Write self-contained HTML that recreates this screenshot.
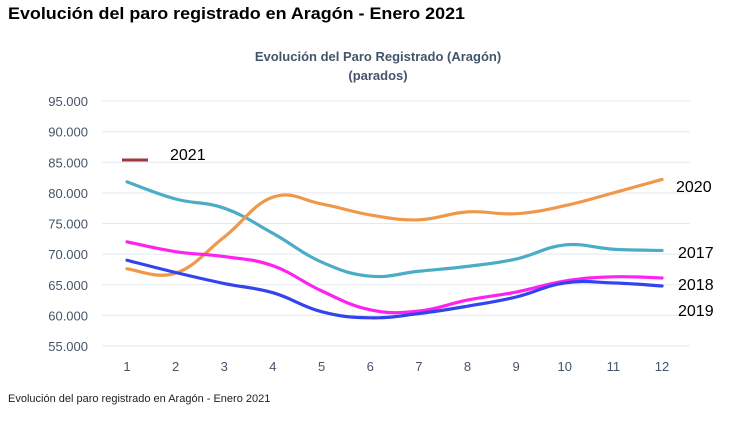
<!DOCTYPE html>
<html><head><meta charset="utf-8"><style>
body{margin:0;background:#fff;width:748px;height:417px;overflow:hidden;font-family:"Liberation Sans",sans-serif}
</style></head><body>
<svg id="s" width="748" height="417" xmlns="http://www.w3.org/2000/svg" font-family="Liberation Sans, sans-serif">
<text x="8" y="19" font-size="17" font-weight="bold" fill="#000" textLength="457" lengthAdjust="spacingAndGlyphs">Evolución del paro registrado en Aragón - Enero 2021</text>
<text x="378" y="61" font-size="13" font-weight="bold" fill="#44546A" text-anchor="middle">Evolución del Paro Registrado (Aragón)</text>
<text x="378" y="80" font-size="13" font-weight="bold" fill="#44546A" text-anchor="middle">(parados)</text>
<g id="grid"></g>
<line x1="122" y1="160" x2="148" y2="160" stroke="#9B3B3B" stroke-width="3"/>
<text x="170" y="160" font-size="16" fill="#000">2021</text>
<g id="lines"></g>
<text x="676" y="192" font-size="16" fill="#000">2020</text>
<text x="678" y="258" font-size="16" fill="#000">2017</text>
<text x="678" y="290" font-size="16" fill="#000">2018</text>
<text x="678" y="316" font-size="16" fill="#000">2019</text>
<text x="8" y="402" font-size="11" fill="#222">Evolución del paro registrado en Aragón - Enero 2021</text>
</svg>
<script>
function Y(v){return 101+(95-v)*6.125}
function X(i){return 127+i*48.64}
var g=document.getElementById('grid'),h='';
for(var v=95;v>=55;v-=5){var y=Y(v);h+='<line x1="102" x2="690" y1="'+y+'" y2="'+y+'" stroke="#E4EAF1" stroke-width="1"/>';
h+='<text x="88" y="'+(y+5)+'" font-size="13" fill="#44546A" text-anchor="end">'+v+'.000</text>';}
for(var i=0;i<12;i++)h+='<text x="'+X(i)+'" y="371" font-size="13" fill="#44546A" text-anchor="middle">'+(i+1)+'</text>';
g.innerHTML=h;
var data=[
["#4BACC6",[81.8,79,77.5,73.4,68.7,66.4,67.2,68,69.2,71.5,70.8,70.6]],
["#F0984A",[67.6,66.9,72.8,79.3,78.2,76.4,75.6,76.9,76.6,77.9,80.0,82.2]],
["#FF22EE",[72,70.4,69.6,68.1,64,60.9,60.7,62.5,63.8,65.6,66.3,66.1]],
["#3344EE",[69,67,65.2,63.7,60.6,59.6,60.3,61.5,63,65.3,65.3,64.8]]];
var L='';
data.forEach(function(d){var p=d[1].map(function(v,i){return[X(i),Y(v)]});
var s='M'+p[0][0]+' '+p[0][1];
for(var i=0;i<p.length-1;i++){var p0=p[i-1]||p[i],p1=p[i],p2=p[i+1],p3=p[i+2]||p2,t=0.2;
s+=' C'+(p1[0]+(p2[0]-p0[0])*t)+' '+(p1[1]+(p2[1]-p0[1])*t)+' '+(p2[0]-(p3[0]-p1[0])*t)+' '+(p2[1]-(p3[1]-p1[1])*t)+' '+p2[0]+' '+p2[1];}
L+='<path d="'+s+'" fill="none" stroke="'+d[0]+'" stroke-width="3.2" stroke-linecap="round"/>';});
document.getElementById('lines').innerHTML=L;
</script>
</body></html>
